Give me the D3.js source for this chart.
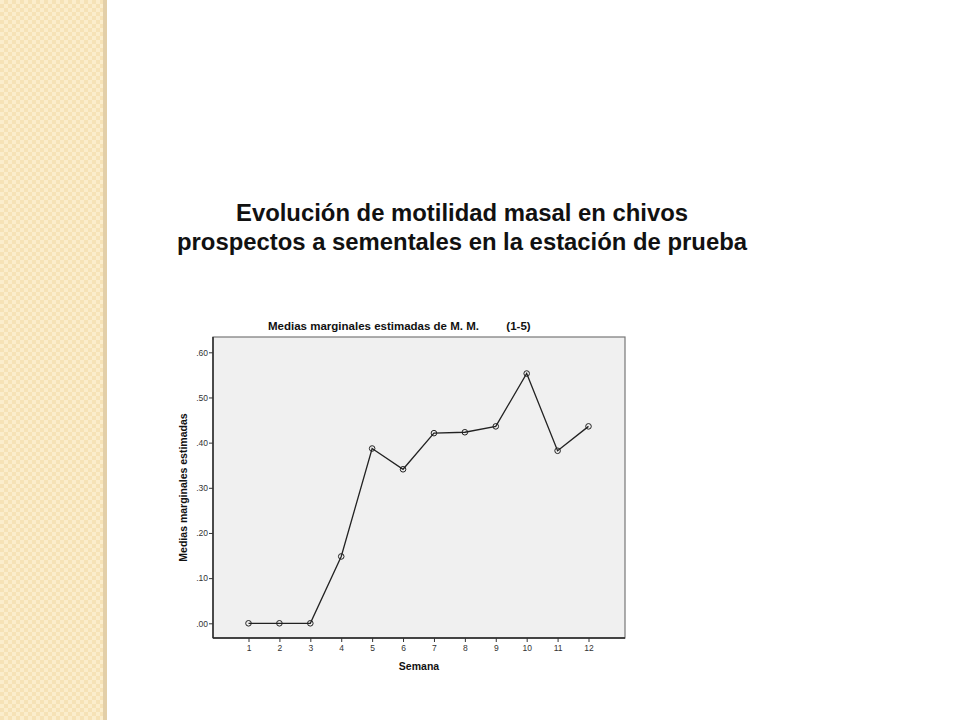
<!DOCTYPE html>
<html>
<head>
<meta charset="utf-8">
<script src="https://cdn.jsdelivr.net/npm/d3@7"></script>
<style>
  body { margin: 0; background: #fff; }
  text { font-family: "Liberation Sans", Arial, sans-serif; }
</style>
</head>
<body>
<svg id="drawing_region"></svg>
<script>
// datos
const semanas = [1, 2, 3, 4, 5, 6, 7, 8, 9, 10, 11, 12];
const medias = [0.000, 0.000, 0.000, 0.148, 0.387, 0.341, 0.421, 0.423, 0.436, 0.553, 0.382, 0.436];
const yTicks = [0, 0.1, 0.2, 0.3, 0.4, 0.5, 0.6];

const titleLines = [
    "Evolución de motilidad masal en chivos",
    "prospectos a sementales en la estación de prueba"
];
const titleWidths = [452, 570];

var width = 960;
var height = 720;

var svg = d3.select('#drawing_region')
    .attr('width', width)
    .attr('height', height);

// franja beige de la izquierda
const defs = svg.append('defs');
const pat = defs.append('pattern')
    .attr('id', 'weave')
    .attr('width', 8)
    .attr('height', 8)
    .attr('patternUnits', 'userSpaceOnUse');
pat.append('rect').attr('width', 8).attr('height', 8).attr('fill', '#f6e2b6');
pat.append('rect').attr('x', 0).attr('y', 0).attr('width', 4).attr('height', 4).attr('fill', '#fbedcc');
pat.append('rect').attr('x', 4).attr('y', 4).attr('width', 4).attr('height', 4).attr('fill', '#fbedcc');

svg.append('rect')
    .attr('x', 0).attr('y', 0)
    .attr('width', 105).attr('height', height)
    .attr('fill', 'url(#weave)');
svg.append('rect')
    .attr('x', 103).attr('y', 0)
    .attr('width', 4).attr('height', height)
    .attr('fill', '#e3cfa8');

// título
svg.selectAll('text.title')
    .data(titleLines)
    .enter().append('text')
    .attr('class', 'title')
    .attr('x', 462)
    .attr('y', (d, i) => 221 + i * 29)
    .attr('text-anchor', 'middle')
    .attr('font-size', 23)
    .attr('font-weight', 'bold')
    .attr('fill', '#111')
    .attr('textLength', (d, i) => titleWidths[i])
    .attr('lengthAdjust', 'spacingAndGlyphs')
    .text(d => d);

// gráfico
const box = {left: 213, right: 625, top: 337, bottom: 638};

const xscale = d3.scaleLinear()
    .domain([1, 12])
    .range([248.5, 588.5]);

const yscale = d3.scaleLinear()
    .domain([0, 0.6])
    .range([623.3, 352.3]);

const chart = svg.append('g');

chart.append('rect')
    .attr('x', box.left)
    .attr('y', box.top)
    .attr('width', box.right - box.left)
    .attr('height', box.bottom - box.top)
    .attr('fill', '#f0f0f0')
    .attr('stroke', '#777')
    .attr('stroke-width', 1.2);

// ejes
const yaxis = d3.axisLeft(yscale)
    .tickValues(yTicks)
    .tickSize(4)
    .tickSizeOuter(0)
    .tickFormat(d => d3.format('.2f')(d).replace(/^0/, ''));

const xaxis = d3.axisBottom(xscale)
    .tickValues(semanas)
    .tickSize(4)
    .tickSizeOuter(0)
    .tickFormat(d3.format('d'));

const yaxis_group = chart.append('g')
    .attr('transform', `translate(${box.left}, 0)`)
    .call(yaxis);
yaxis_group.select('.domain')
    .attr('d', `M0,${box.top}V${box.bottom}`)
    .attr('stroke', '#222')
    .attr('stroke-width', 1.4);

const xaxis_group = chart.append('g')
    .attr('transform', `translate(0, ${box.bottom})`)
    .call(xaxis);
xaxis_group.select('.domain')
    .attr('d', `M${box.left},0H${box.right}`)
    .attr('stroke', '#222')
    .attr('stroke-width', 1.4);

chart.selectAll('.tick line').attr('stroke', '#333');
chart.selectAll('.tick text')
    .attr('font-family', '"Liberation Sans", Arial, sans-serif')
    .attr('font-size', 8.5)
    .attr('fill', '#333');
yaxis_group.selectAll('.tick text').attr('x', -5);

// rótulos
chart.append('text')
    .attr('x', 373.5)
    .attr('y', 330)
    .attr('text-anchor', 'middle')
    .attr('font-size', 11.5)
    .attr('font-weight', 'bold')
    .attr('fill', '#111')
    .text('Medias marginales estimadas de M. M.');

chart.append('text')
    .attr('x', 518.5)
    .attr('y', 330)
    .attr('text-anchor', 'middle')
    .attr('font-size', 11.5)
    .attr('font-weight', 'bold')
    .attr('fill', '#111')
    .text('(1-5)');

chart.append('text')
    .attr('x', 419)
    .attr('y', 670)
    .attr('text-anchor', 'middle')
    .attr('font-size', 10.5)
    .attr('font-weight', 'bold')
    .attr('fill', '#111')
    .text('Semana');

chart.append('text')
    .attr('transform', `translate(187, ${(box.top + box.bottom) / 2}) rotate(-90)`)
    .attr('text-anchor', 'middle')
    .attr('font-size', 10.5)
    .attr('font-weight', 'bold')
    .attr('fill', '#111')
    .text('Medias marginales estimadas');

// línea y puntos
const line = d3.line()
    .x((d, i) => xscale(semanas[i]))
    .y(d => yscale(d));

chart.append('path')
    .attr('d', line(medias))
    .attr('fill', 'none')
    .attr('stroke', '#222')
    .attr('stroke-width', 1.3);

chart.selectAll('circle.pt')
    .data(medias)
    .enter().append('circle')
    .attr('class', 'pt')
    .attr('cx', (d, i) => xscale(semanas[i]))
    .attr('cy', d => yscale(d))
    .attr('r', 2.8)
    .attr('fill', 'none')
    .attr('stroke', '#222')
    .attr('stroke-width', 1);
</script>
</body>
</html>
